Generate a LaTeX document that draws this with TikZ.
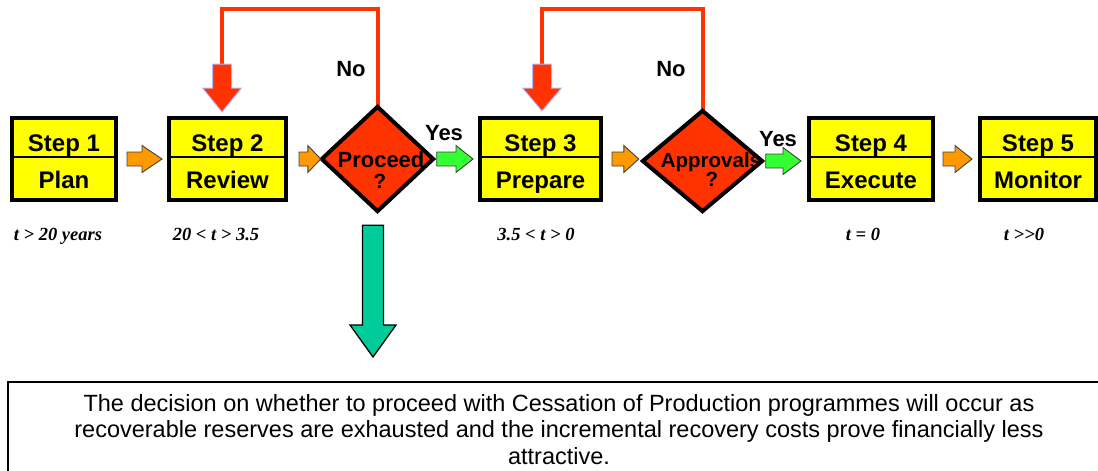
\documentclass[tikz,border=0pt]{standalone}
\usepackage{fontspec}
\setmainfont{Liberation Sans}
\newfontfamily\timesfont{Liberation Serif}
\usetikzlibrary{shapes.geometric,calc}

\definecolor{stepyellow}{HTML}{FFFF00}
\definecolor{decred}{HTML}{FF3300}
\definecolor{flowgreen}{HTML}{33FF33}
\definecolor{floworange}{HTML}{FF9900}
\definecolor{exitteal}{HTML}{00CC99}
\definecolor{haze}{HTML}{B8B8FF}

% right-pointing block arrow: style, tail, tip, head length
\newcommand\blockright[4]{%
  \path[#1] let \p1=(#2), \p2=(#3) in
    (\x1,\y1+7pt) -- (\x2-#4,\y1+7pt) -- (\x2-#4,\y1+13.5pt) -- (\x2,\y1)
    -- (\x2-#4,\y1-13.5pt) -- (\x2-#4,\y1-7pt) -- (\x1,\y1-7pt) -- cycle;}
% down-pointing block arrow: style, top, tip, shaft half width, head half width, head length
\newcommand\blockdown[6]{%
  \path[#1] let \p1=(#2), \p2=(#3) in
    (\x2-#4,\y1) -- (\x2-#4,\y2+#6) -- (\x2-#5,\y2+#6) -- (\x2,\y2)
    -- (\x2+#5,\y2+#6) -- (\x2+#4,\y2+#6) -- (\x2+#4,\y1) -- cycle;}

\begin{document}
\begin{tikzpicture}[x=1pt,y=-1pt,
  stepbox/.style={draw=black,line width=4pt,fill=stepyellow,minimum height=82pt,inner sep=0pt},
  divider/.style={line width=1.2pt},
  steptext/.style={anchor=base,inner sep=0pt,font=\bfseries\fontsize{24}{24}\selectfont},
  decision/.style={diamond,draw=black,line width=4pt,fill=decred,inner sep=0pt},
  dectext/.style={anchor=base,inner sep=0pt,font=\bfseries\fontsize{#1}{#1}\selectfont},
  dectext/.default=20.5,
  answer/.style={anchor=base,inner sep=0pt,font=\bfseries\fontsize{22}{22}\selectfont},
  timelabel/.style={anchor=base,inner sep=0pt,font=\timesfont\bfseries\itshape\fontsize{18.5}{18.5}\selectfont},
  feedback/.style={draw=decred,line width=4pt},
  redarrow/.style={fill=decred,draw=haze,line width=1pt},
  orangearrow/.style={fill=floworange,draw=black!75,line width=0.9pt},
  greenarrow/.style={fill=flowgreen,draw=black!75,line width=0.9pt},
  exitarrow/.style={fill=exitteal,draw=black,line width=1.3pt},
  notebox/.style={draw=black,line width=1.5pt,minimum width=1102pt,minimum height=120pt,inner sep=0pt},
  notetext/.style={align=center,inner sep=0pt,font=\fontsize{23.5}{26.5}\selectfont}]

\useasboundingbox (0,0) rectangle (1098,471);
\clip (0,0) rectangle (1098,471);

% process steps
\foreach \n/\cx/\w/\sub in {1/64/104/Plan, 2/227.5/117/Review, 3/540.5/121/Prepare,
                            4/871/124/Execute, 5/1038/116/Monitor} {
  \node[stepbox,minimum width=\w] (s\n) at (\cx,159) {};
  \draw[divider] ([xshift=2pt,yshift=2pt]s\n.west) -- ([xshift=-2pt,yshift=2pt]s\n.east);
  \node[steptext] (s\n-t) at (\cx,151) {Step \n};
  \node[steptext] (s\n-b) at (\cx,188) {\sub};
}

% decision points (shapes only, so the loops can be drawn underneath)
\path (377.5,159) node[diamond,minimum width=113,minimum height=106,inner sep=0pt] (d1) {};
\path (702.5,161) node[diamond,minimum width=121,minimum height=102,inner sep=0pt] (d2) {};

% "No" loops back to the previous step
\coordinate (fb1) at (222,64);
\coordinate (fb1tip) at (222,112);
\coordinate (fb2) at (542,64);
\coordinate (fb2tip) at (542,111);
\draw[feedback] (d1.north) |- (222,9) -- (fb1);
\draw[feedback] (d2.north) |- (542,9) -- (fb2);
\blockdown{redarrow}{fb1}{fb1tip}{9.5}{19.5}{24}
\blockdown{redarrow}{fb2}{fb2tip}{9.5}{19.5}{23}

\node[decision,minimum width=113,minimum height=106] at (d1) {};
\node[decision,minimum width=121,minimum height=102] at (d2) {};
\node[dectext=22] (d1-t) at (381,167) {Proceed};
\node[dectext] (d1-q) at (380,188) {?};
\node[dectext] (d2-t) at (711,167) {Approvals};
\node[dectext] (d2-q) at (712,186) {?};

% flow arrows
\blockright{orangearrow}{$(s1.east)+(9,0)$}{$(s2.west)+(-5,0)$}{20pt}
\blockright{orangearrow}{$(s2.east)+(11,0)$}{d1.west}{13pt}
\blockright{greenarrow}{$(d1.east)+(2.5,0)$}{$(s3.west)+(-5,0)$}{17pt}
\blockright{orangearrow}{$(s3.east)+(9,0)$}{$(d2.west)+(-3,0)$}{15pt}
\blockright{greenarrow}{$(d2.east)+(2.5,0)$}{$(s4.west)+(-6,0)$}{18pt}
\blockright{orangearrow}{$(s4.east)+(8,0)$}{$(s5.west)+(-6,0)$}{17pt}

% answers
\node[answer] (no1) at (351,76) {No};
\node[answer] (no2) at (671,76) {No};
\node[answer] (yes1) at (444,140) {Yes};
\node[answer] (yes2) at (778,146) {Yes};

% timing
\node[timelabel] (t1) at (58,240) {t > 20 years};
\node[timelabel] (t2) at (216,240) {20 < t > 3.5};
\node[timelabel] (t3) at (536,240) {3.5 < t > 0};
\node[timelabel] (t4) at (863,240) {t = 0};
\node[timelabel] (t5) at (1024,240) {t >>0};

% exit to the note
\coordinate (exit) at (373,357);
\blockdown{exitarrow}{$(d1.south)+(-4.5,13)$}{exit}{10.5}{23}{32}

\node[notebox] (note) at (559,442) {};
\node[notetext] (note-text) at (559,429.5)
  {The decision on whether to proceed with Cessation of Production programmes will occur as\\
   recoverable reserves are exhausted and the incremental recovery costs prove financially less\\
   attractive.};
\end{tikzpicture}
\end{document}
